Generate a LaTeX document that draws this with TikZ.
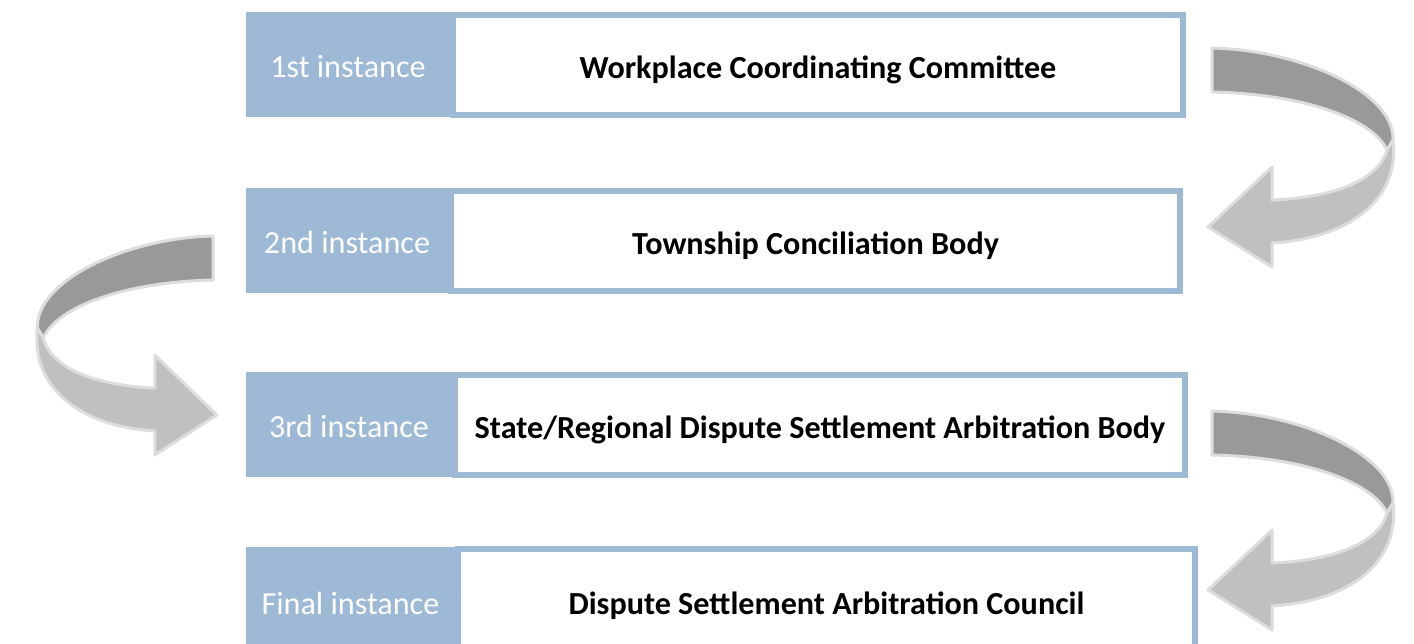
\documentclass[tikz,border=0pt]{standalone}
\usepackage{fontspec}
\setmainfont{Carlito}
\usetikzlibrary{positioning}

\definecolor{instblue}{HTML}{9DB9D5}
\definecolor{arrowdark}{HTML}{999999}
\definecolor{arrowlight}{HTML}{C0C0C0}
\definecolor{arrowrim}{HTML}{DDDDDD}

\tikzset{
  uturn/.pic={
    \filldraw[fill=arrowdark,draw=arrowrim,line width=0.06cm,line join=round]
      (0,0) .. controls (90,2) and (183,45) .. (181,92)
      -- (175,102) .. controls (160,70) and (90,46) .. (0,44) -- cycle;
    \filldraw[fill=arrowlight,draw=arrowrim,line width=0.06cm,line join=round]
      (175,102) .. controls (165,137) and (110,150) .. (60,152)
      -- (60,119) -- (-4,179) -- (60,219) -- (60,195)
      .. controls (140,190) and (188,150) .. (181,92) -- cycle;
  }
}

\begin{document}
\begin{tikzpicture}[x=0.02cm,y=-0.02cm,
    instance/.style={fill=instblue,text=white,inner sep=0pt,
      font=\fontsize{18.3}{22}\selectfont,text height=15.2pt,text depth=0pt},
    body/.style={draw=instblue,line width=0.12cm,fill=white,inner sep=0pt,
      font=\fontsize{18.3}{22}\selectfont\bfseries,text height=15.2pt,text depth=0pt}]
  \useasboundingbox (0,0) rectangle (1414,643);
  \clip (0,0) rectangle (1414,643);

  % bodies
  \node[body,minimum width=14.6cm,minimum height=2cm] (body1) at (818,65) {Workplace Coordinating Committee};
  \node[body,minimum width=14.58cm,minimum height=2cm] (body2) at (815.5,241) {Township Conciliation Body};
  \node[body,minimum width=14.6cm,minimum height=2cm] (body3) at (820,425) {State/Regional Dispute Settlement Arbitration Body};
  \node[body,minimum width=14.74cm,minimum height=2.08cm] (body4) at (826.5,601) {Dispute Settlement Arbitration Council};

  % instances
  \node[instance,minimum width=4.08cm,minimum height=2.1cm] (inst1) at (348,64.5) {1st instance};
  \node[instance,minimum width=4.04cm,minimum height=2.1cm] (inst2) at (347,240.5) {2nd instance};
  \node[instance,minimum width=4.12cm,minimum height=2.1cm] (inst3) at (349,424.5) {3rd instance};
  \node[instance,minimum width=4.18cm,minimum height=2.16cm] (inst4) at (350.5,601) {Final instance};

  % arrows
  \pic at (1212,48) {uturn};
  \pic[xscale=-0.97] at (213,236) {uturn};
  \pic at (1212,411) {uturn};
\end{tikzpicture}
\end{document}
